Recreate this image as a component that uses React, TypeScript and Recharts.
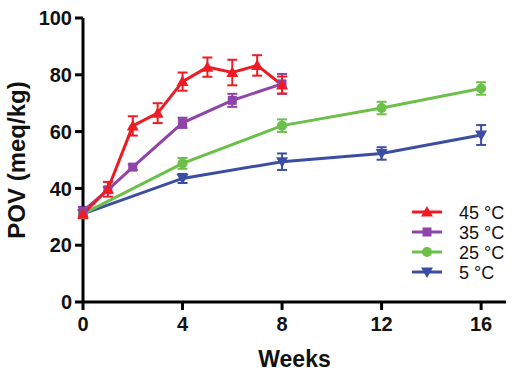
import { LineChart, Line, XAxis, YAxis, ErrorBar } from "recharts"

const weeks45 = [0, 1, 2, 3, 4, 5, 6, 7, 8]
const pov45 = [31, 39.7, 62, 66.5, 77.6, 82.7, 80.8, 83.3, 76.4]
const err45 = [1.5, 2.6, 3.4, 3.5, 3.2, 3.4, 4.5, 3.6, 3]

const weeks35 = [0, 1, 2, 4, 6, 8]
const pov35 = [32, 39.5, 47.5, 63.1, 71, 76.8]
const err35 = [1.5, 1, 1, 1.8, 2.3, 3.5]

const weeks25 = [0, 4, 8, 12, 16]
const pov25 = [31, 48.8, 62.1, 68.3, 75.2]
const err25 = [1, 1.9, 2.2, 2.2, 2.2]

const weeks5 = [0, 4, 8, 12, 16]
const pov5 = [31, 43.5, 49.4, 52.3, 58.8]
const err5 = [1, 1.6, 2.9, 2.2, 3.5]

const xTicks = [0, 4, 8, 12, 16]
const yTicks = [0, 20, 40, 60, 80, 100]

const RED = "#ed1c24"
const PURPLE = "#8e44a8"
const GREEN = "#6cc04a"
const BLUE = "#3b4ea3"

const FONT = "'Liberation Sans', Arial, sans-serif"

type Shape = "up" | "square" | "circle" | "down"

function toRows(weeks: number[], pov: number[], err: number[]) {
  return weeks.map((w, i) => ({ week: w, pov: pov[i], err: err[i] }))
}

const d45 = toRows(weeks45, pov45, err45)
const d35 = toRows(weeks35, pov35, err35)
const d25 = toRows(weeks25, pov25, err25)
const d5 = toRows(weeks5, pov5, err5)

function Marker({ shape, cx, cy, color }: { shape: Shape; cx: number; cy: number; color: string }) {
  if (shape === "up")
    return <polygon points={`${cx},${cy - 6} ${cx - 6},${cy + 4.5} ${cx + 6},${cy + 4.5}`} fill={color} />
  if (shape === "down")
    return <polygon points={`${cx},${cy + 6} ${cx - 6},${cy - 4.5} ${cx + 6},${cy - 4.5}`} fill={color} />
  if (shape === "square") return <rect x={cx - 4.5} y={cy - 4.5} width={9} height={9} fill={color} />
  return <circle cx={cx} cy={cy} r={5} fill={color} />
}

function dotFor(shape: Shape, color: string) {
  // eslint-disable-next-line @typescript-eslint/no-explicit-any
  return (props: any) => (
    <Marker key={`${shape}-${props.index}`} shape={shape} cx={props.cx} cy={props.cy} color={color} />
  )
}

const legendItems: { label: string; color: string; shape: Shape }[] = [
  { label: "45 °C", color: RED, shape: "up" },
  { label: "35 °C", color: PURPLE, shape: "square" },
  { label: "25 °C", color: GREEN, shape: "circle" },
  { label: "5 °C", color: BLUE, shape: "down" },
]

// legend sits inside the plot, bottom right
function LegendBox() {
  return (
    <svg width={110} height={84} style={{ position: "absolute", left: 410, top: 202 }}>
      {legendItems.map((item, i) => {
        const y = 10 + i * 20
        return (
          <g key={item.label}>
            <line x1={2} x2={32} y1={y} y2={y} stroke={item.color} strokeWidth={3} />
            <Marker shape={item.shape} cx={17} cy={y} color={item.color} />
            <text x={49} y={y + 6.5} fontSize={18} fontFamily={FONT} fill="#111">
              {item.label}
            </text>
          </g>
        )
      })}
    </svg>
  )
}

const tickStyle = { fontSize: 20, fontWeight: 700, fill: "#111", fontFamily: FONT }

export default function App() {
  const series = [
    { data: d5, color: BLUE, shape: "down" as Shape, name: "5 °C" },
    { data: d25, color: GREEN, shape: "circle" as Shape, name: "25 °C" },
    { data: d35, color: PURPLE, shape: "square" as Shape, name: "35 °C" },
    { data: d45, color: RED, shape: "up" as Shape, name: "45 °C" },
  ]
  return (
    <div style={{ position: "fixed", left: 0, top: 0, width: 515, height: 377, background: "#fff" }}>
      <LineChart width={515} height={377} margin={{ top: 18, right: 9, left: 0, bottom: 0 }}>
        <XAxis
          dataKey="week"
          type="number"
          domain={[0, 17]}
          ticks={xTicks}
          allowDuplicatedCategory={false}
          height={75}
          tick={tickStyle}
          tickSize={8}
          tickMargin={7}
          axisLine={{ stroke: "#000", strokeWidth: 3 }}
          tickLine={{ stroke: "#000", strokeWidth: 3 }}
          label={{
            value: "Weeks",
            position: "insideBottom",
            offset: 10,
            style: { fontSize: 23, fontWeight: 700, fill: "#111", fontFamily: FONT },
          }}
        />
        <YAxis
          type="number"
          domain={[0, 100]}
          ticks={yTicks}
          width={83}
          tick={tickStyle}
          tickSize={8}
          tickMargin={3}
          axisLine={{ stroke: "#000", strokeWidth: 3 }}
          tickLine={{ stroke: "#000", strokeWidth: 3 }}
          label={{
            value: "POV (meq/kg)",
            angle: -90,
            position: "insideLeft",
            offset: 16,
            style: { fontSize: 24, fontWeight: 700, fill: "#111", fontFamily: FONT, textAnchor: "middle" },
          }}
        />
        {series.map((s) => (
          <Line
            key={s.name}
            data={s.data}
            dataKey="pov"
            name={s.name}
            stroke={s.color}
            strokeWidth={3}
            dot={dotFor(s.shape, s.color)}
            activeDot={false}
            isAnimationActive={false}
          >
            <ErrorBar dataKey="err" direction="y" width={5} strokeWidth={2} stroke={s.color} />
          </Line>
        ))}
      </LineChart>
      <LegendBox />
    </div>
  )
}
